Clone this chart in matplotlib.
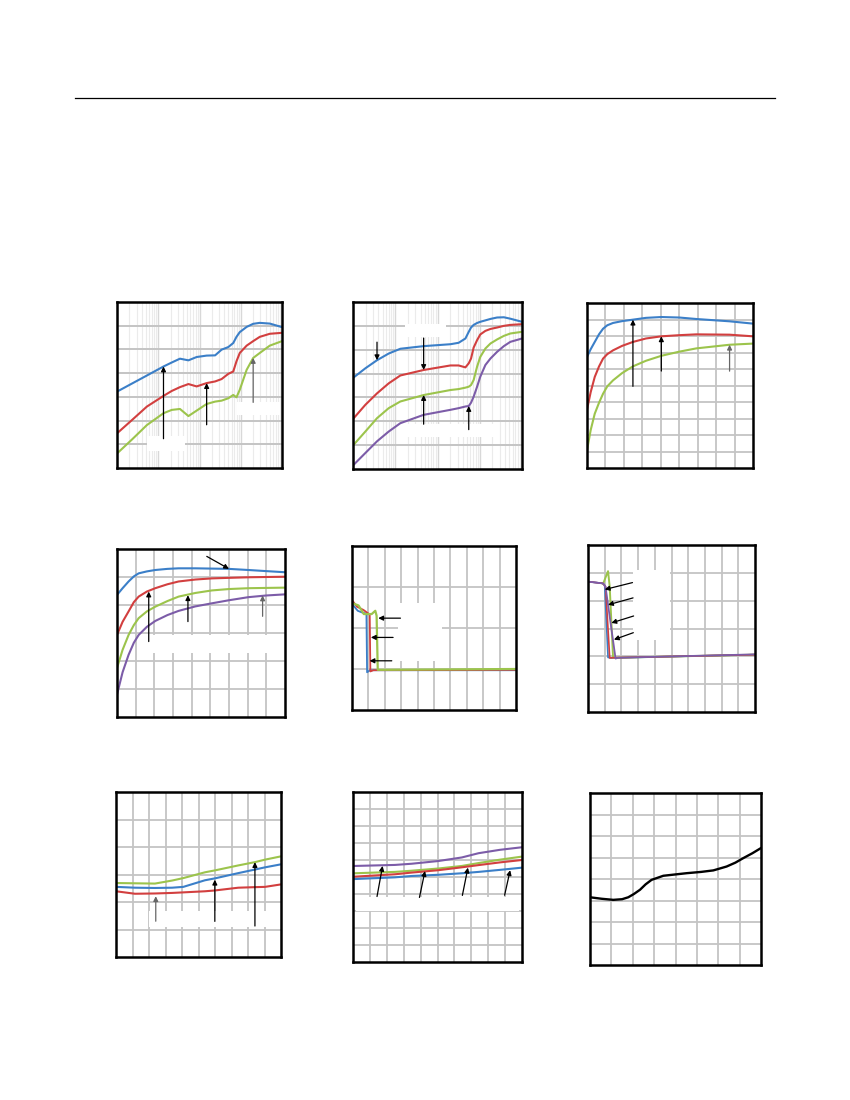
import numpy as np
import matplotlib
matplotlib.use("Agg")
import matplotlib.pyplot as plt
from matplotlib.patches import Rectangle
from matplotlib.ticker import LogLocator, NullFormatter

BLUE = '#3b7fc8'
RED = '#d23f3f'
GREEN = '#9cc44c'
PURPLE = '#7c5ca8'

# ---- panel 1 (log x) ----
p1_x = [10, 23, 53, 134, 213, 336, 539, 853, 1490, 2390, 3430, 4990, 6580, 7880,
        9470, 13900, 20000, 28900, 50600, 100000]
p1_blue = [3.22, 3.56, 3.90, 4.28, 4.45, 4.61, 4.54, 4.68, 4.74, 4.75, 4.99, 5.10,
           5.27, 5.53, 5.73, 5.95, 6.08, 6.12, 6.09, 5.94]
p1_red = [1.46, 2.02, 2.59, 3.04, 3.25, 3.41, 3.54, 3.44, 3.58, 3.65, 3.75, 3.97,
          4.07, 4.50, 4.85, 5.16, 5.35, 5.53, 5.66, 5.70]
p1_green = [0.61, 1.20, 1.81, 2.31, 2.45, 2.49, 2.19, 2.42, 2.70, 2.80, 2.84, 2.94,
            3.08, 2.98, 3.30, 4.14, 4.64, 4.85, 5.16, 5.35]

# ---- panel 2 (log x) ----
p2_x = [10.4, 19.6, 37, 70, 132, 470, 2020, 3160, 4580, 5490, 6220, 7170, 8650,
        10300, 13600, 17900, 25700, 37200, 53000, 100000]
p2_blue = [3.84, 4.22, 4.56, 4.84, 5.04, 5.15, 5.23, 5.29, 5.47, 5.75, 5.93, 6.04,
           6.12, 6.17, 6.23, 6.29, 6.35, 6.36, 6.30, 6.17]
p2_red = [2.13, 2.69, 3.17, 3.59, 3.92, 4.15, 4.34, 4.34, 4.26, 4.43, 4.63, 5.09,
          5.40, 5.64, 5.79, 5.87, 5.93, 6.00, 6.04, 6.07]
p2_green = [1.02, 1.57, 2.13, 2.55, 2.83, 3.10, 3.31, 3.35, 3.41, 3.45, 3.52, 3.73,
            4.29, 4.70, 5.05, 5.26, 5.43, 5.58, 5.68, 5.75]
p2_purple = [0.18, 0.67, 1.16, 1.57, 1.92, 2.27, 2.48, 2.55, 2.62, 2.64, 2.78, 3.03,
             3.45, 3.87, 4.36, 4.63, 4.91, 5.15, 5.33, 5.47]

# ---- panel 3 ----
p3_x = [0, 0.2, 0.42, 0.65, 0.87, 1.1, 1.41, 1.9, 2.49, 3.2, 4.03, 5.0, 5.93, 7.73, 9.0]
p3_blue = [6.73, 7.2, 7.64, 8.1, 8.44, 8.65, 8.79, 8.9, 8.99, 9.1, 9.15, 9.12, 9.03, 8.89, 8.75]
p3_red = [3.54, 4.6, 5.52, 6.15, 6.63, 6.9, 7.13, 7.4, 7.64, 7.85, 7.98, 8.05, 8.1, 8.08, 7.98]
p3_green = [1.07, 2.3, 3.29, 3.95, 4.5, 4.95, 5.31, 5.75, 6.16, 6.5, 6.8, 7.05, 7.25, 7.47, 7.54]

# ---- panel 4 ----
p4_x = [0, 0.3, 0.62, 0.9, 1.16, 1.6, 2.05, 2.7, 3.3, 4.2, 5.08, 6.0, 7.04, 8.0, 9.0]
p4_blue = [4.36, 4.6, 4.84, 5.02, 5.13, 5.2, 5.25, 5.29, 5.31, 5.31, 5.30, 5.29, 5.25, 5.21, 5.17]
p4_red = [2.93, 3.4, 3.77, 4.1, 4.30, 4.48, 4.60, 4.74, 4.84, 4.91, 4.95, 4.97, 4.99, 5.0, 5.01]
p4_green = [1.75, 2.4, 2.93, 3.28, 3.53, 3.77, 3.94, 4.14, 4.30, 4.43, 4.52, 4.57, 4.60, 4.61, 4.62]
p4_purple = [0.80, 1.6, 2.22, 2.65, 2.93, 3.22, 3.43, 3.64, 3.79, 3.95, 4.06, 4.17, 4.28, 4.34, 4.38]

# ---- panel 5 (step response) ----
p5_blue_x = [0.06, 0.35, 0.6, 0.88, 0.92, 1.1, 10.0]
p5_blue_y = [2.56, 2.42, 2.38, 2.35, 0.92, 0.97, 0.97]
p5_red_x = [0.06, 0.3, 0.7, 1.08, 1.12, 1.3, 10.0]
p5_red_y = [2.65, 2.52, 2.44, 2.33, 0.94, 0.97, 0.98]
p5_green_x = [0.06, 0.4, 0.72, 1.2, 1.42, 1.5, 1.57, 1.8, 10.0]
p5_green_y = [2.6, 2.55, 2.34, 2.34, 2.42, 2.3, 0.98, 0.98, 1.0]

# ---- panel 6 (step response) ----
p6_blue_x = [0.06, 0.9, 1.0, 1.2, 1.4, 10.0]
p6_blue_y = [4.68, 4.62, 4.55, 1.96, 1.94, 2.06]
p6_red_x = [0.06, 0.9, 1.05, 1.3, 1.5, 10.0]
p6_red_y = [4.68, 4.62, 4.5, 1.94, 1.95, 2.06]
p6_green_x = [0.9, 1.2, 1.3, 1.5, 1.7, 10.0]
p6_green_y = [4.6, 5.06, 4.5, 1.96, 1.95, 2.06]
p6_purple_x = [0.06, 0.9, 1.05, 1.65, 1.8, 10.0]
p6_purple_y = [4.68, 4.62, 4.5, 1.92, 1.95, 2.07]

# ---- panel 7 ----
p7_x = [0, 1.15, 2.36, 3.4, 4.08, 5.39, 6.0, 7.41, 8.42, 9.03, 10.0]
p7_green = [2.69, 2.68, 2.67, 2.78, 2.87, 3.08, 3.15, 3.33, 3.45, 3.54, 3.66]
p7_blue = [2.55, 2.52, 2.51, 2.52, 2.55, 2.79, 2.86, 3.05, 3.18, 3.26, 3.37]
p7_red = [2.39, 2.30, 2.31, 2.33, 2.35, 2.39, 2.42, 2.52, 2.54, 2.55, 2.64]

# ---- panel 8 ----
p8_x = [0.1, 2.48, 3.47, 5.05, 6.44, 7.43, 8.7, 10.0]
p8_purple = [5.65, 5.71, 5.78, 5.94, 6.15, 6.40, 6.6, 6.75]
p8_green = [5.22, 5.3, 5.37, 5.5, 5.65, 5.82, 6.02, 6.2]
p8_red = [5.02, 5.16, 5.26, 5.4, 5.57, 5.7, 5.86, 6.0]
p8_blue = [4.88, 4.98, 5.06, 5.13, 5.22, 5.3, 5.42, 5.55]

# ---- panel 9 ----
p9_x = [0, 0.55, 1.09, 1.5, 1.79, 2.05, 2.34, 2.6, 2.88, 3.43, 4.52, 5.2, 5.77, 6.39, 6.8, 7.17, 7.6, 8.0]
p9_y = [3.15, 3.08, 3.03, 3.06, 3.15, 3.3, 3.50, 3.75, 3.96, 4.15, 4.27, 4.33, 4.40, 4.58, 4.76, 4.97, 5.2, 5.44]

fig = plt.figure(figsize=(8.5, 11), dpi=100)
W, H = 850.0, 1100.0


def make_ax(x0, y0, x1, y1):
    ax = fig.add_axes([x0 / W, 1 - y1 / H, (x1 - x0) / W, (y1 - y0) / H])
    ax.set_axisbelow(True)
    for s in ax.spines.values():
        s.set_linewidth(1.8)
        s.set_color('black')
    ax.tick_params(left=False, bottom=False, labelleft=False, labelbottom=False,
                   which='both')
    return ax


def lin_grid(ax, nx, ny):
    ax.set_xlim(0, nx)
    ax.set_ylim(0, ny)
    ax.set_xticks(np.arange(1, nx))
    ax.set_yticks(np.arange(1, ny))
    ax.grid(True, color='#c4c4c4', lw=1.3)


def mask(ax, x0, y0, w, h):
    ax.add_patch(Rectangle((x0, y0), w, h, transform=ax.transAxes,
                           facecolor='white', edgecolor='none', zorder=1))


def arrow(ax, x, y, dx, dy, color='black'):
    ax.annotate('', xy=(x, y), xytext=(dx, dy), textcoords='offset points',
                arrowprops=dict(arrowstyle='-|>', color=color, lw=0.9,
                                mutation_scale=7, shrinkA=0, shrinkB=0),
                zorder=5)


def log_panel(ax):
    ax.set_xscale('log')
    ax.set_xlim(10, 100000)
    ax.set_ylim(0, 7)
    ax.set_yticks(np.arange(1, 7))
    ax.xaxis.set_major_locator(LogLocator(base=10, numticks=10))
    ax.xaxis.set_minor_locator(LogLocator(base=10, subs=np.arange(2, 10), numticks=20))
    ax.xaxis.set_minor_formatter(NullFormatter())
    ax.grid(True, which='major', axis='y', color='#c4c4c4', lw=1.4)
    ax.grid(True, which='major', axis='x', color='#d8d8d8', lw=1.0)
    ax.grid(True, which='minor', axis='x', color='#ebebeb', lw=0.8)


# horizontal rule at the top
fig.add_artist(plt.Line2D([75 / W, 775 / W], [1 - 98 / H, 1 - 98 / H],
                          color='black', lw=0.9))

lw = 1.5

# panel 1
ax = make_ax(117, 302, 282, 468)
log_panel(ax)
mask(ax, 0.18, 0.10, 0.23, 0.09)
mask(ax, 0.73, 0.32, 0.26, 0.08)
ax.plot(p1_x, p1_blue, color=BLUE, lw=lw, zorder=2)
ax.plot(p1_x, p1_red, color=RED, lw=lw, zorder=2)
ax.plot(p1_x, p1_green, color=GREEN, lw=lw, zorder=2)
arrow(ax, p1_x[3], p1_blue[3], 0, -52)
arrow(ax, p1_x[8], p1_red[8], 0, -30)
arrow(ax, p1_x[16], p1_green[16], 0, -32, color='#666666')

# panel 2
ax = make_ax(353, 302, 522, 469)
log_panel(ax)
mask(ax, 0.31, 0.79, 0.24, 0.08)
mask(ax, 0.31, 0.19, 0.55, 0.08)
ax.plot(p2_x, p2_blue, color=BLUE, lw=lw, zorder=2)
ax.plot(p2_x, p2_red, color=RED, lw=lw, zorder=2)
ax.plot(p2_x, p2_green, color=GREEN, lw=lw, zorder=2)
ax.plot(p2_x, p2_purple, color=PURPLE, lw=lw, zorder=2)
arrow(ax, p2_x[2], p2_blue[2], 0, 13)
arrow(ax, p2_x[5], p2_red[5], 0, 23)
arrow(ax, p2_x[5], p2_green[5], 0, -21)
arrow(ax, p2_x[9], p2_purple[9], 0, -17)

# panel 3
ax = make_ax(587, 303, 753, 468)
lin_grid(ax, 9, 10)
ax.plot(p3_x, p3_blue, color=BLUE, lw=lw, zorder=2)
ax.plot(p3_x, p3_red, color=RED, lw=lw, zorder=2)
ax.plot(p3_x, p3_green, color=GREEN, lw=lw, zorder=2)
arrow(ax, p3_x[8], p3_blue[8], 0, -48)
arrow(ax, p3_x[10], p3_red[10], 0, -25)
arrow(ax, p3_x[13], p3_green[13], 0, -19, color='#666666')

# panel 4
ax = make_ax(117, 549, 285, 717)
lin_grid(ax, 9, 6)
mask(ax, 0.2, 0.38, 0.8, 0.11)
ax.plot(p4_x, p4_blue, color=BLUE, lw=lw, zorder=2)
ax.plot(p4_x, p4_red, color=RED, lw=lw, zorder=2)
ax.plot(p4_x, p4_green, color=GREEN, lw=lw, zorder=2)
ax.plot(p4_x, p4_purple, color=PURPLE, lw=lw, zorder=2)
arrow(ax, p4_x[11], p4_blue[11], -16, 9)
arrow(ax, p4_x[5] + 0.1, p4_red[5], 0, -36)
arrow(ax, p4_x[9] - 0.4, p4_green[9] - 0.08, 0, -19)
arrow(ax, p4_x[13] - 0.2, p4_purple[13], 0, -15, color='#666666')

# panel 5
ax = make_ax(352, 546, 516, 710)
lin_grid(ax, 10, 4)
mask(ax, 0.28, 0.3, 0.27, 0.35)
ax.plot(p5_blue_x, p5_blue_y, color=BLUE, lw=1.3, zorder=2)
ax.plot(p5_red_x, p5_red_y, color=RED, lw=1.3, zorder=2)
ax.plot(p5_green_x, p5_green_y, color=GREEN, lw=1.6, zorder=2)
arrow(ax, 1.6, p5_green_y[3] - 0.1, 16, 0)
arrow(ax, 1.15, 1.77, 16, 0)
arrow(ax, 1.07, 1.2, 16, 0)

# panel 6
ax = make_ax(588, 545, 755, 712)
lin_grid(ax, 10, 6)
mask(ax, 0.27, 0.43, 0.22, 0.42)
ax.plot(p6_blue_x, p6_blue_y, color=BLUE, lw=1.2, zorder=2)
ax.plot(p6_green_x, p6_green_y, color=GREEN, lw=1.4, zorder=2)
ax.plot(p6_red_x, p6_red_y, color=RED, lw=1.2, zorder=2)
ax.plot(p6_purple_x, p6_purple_y, color=PURPLE, lw=1.3, zorder=2)
arrow(ax, 1.0, 4.4, 20, 5)
arrow(ax, 1.2, 3.85, 18, 5)
arrow(ax, 1.4, 3.2, 16, 5)
arrow(ax, 1.55, 2.6, 14, 5)

# panel 7
ax = make_ax(116, 792, 281, 957)
lin_grid(ax, 10, 6)
mask(ax, 0.2, 0.18, 0.8, 0.1)
ax.plot(p7_x, p7_green, color=GREEN, lw=lw, zorder=2)
ax.plot(p7_x, p7_blue, color=BLUE, lw=lw, zorder=2)
ax.plot(p7_x, p7_red, color=RED, lw=lw, zorder=2)
arrow(ax, p7_x[2] + 0.05, p7_red[2] - 0.1, 0, -18, color='#666666')
arrow(ax, p7_x[5] + 0.6, p7_blue[6] - 0.05, 0, -30)
arrow(ax, p7_x[8], p7_green[8], 0, -46)

# panel 8
ax = make_ax(353, 792, 522, 962)
lin_grid(ax, 10, 10)
mask(ax, 0.02, 0.3, 0.96, 0.08)
ax.plot(p8_x, p8_purple, color=PURPLE, lw=lw, zorder=2)
ax.plot(p8_x, p8_green, color=GREEN, lw=lw, zorder=2)
ax.plot(p8_x, p8_red, color=RED, lw=lw, zorder=2)
ax.plot(p8_x, p8_blue, color=BLUE, lw=lw, zorder=2)
arrow(ax, 1.75, p8_purple[0], -4, -22)
arrow(ax, 4.26, 5.35, -4, -19)
arrow(ax, 6.8, 5.55, -4, -20)
arrow(ax, 9.3, 5.4, -4, -18)

# panel 9
ax = make_ax(590, 793, 761, 965)
lin_grid(ax, 8, 8)
ax.plot(p9_x, p9_y, color='black', lw=1.7, zorder=2)

fig.savefig('out.png', dpi=100)
